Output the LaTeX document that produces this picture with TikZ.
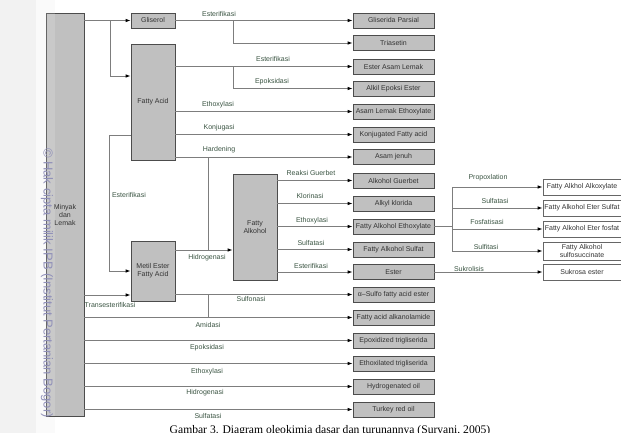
\documentclass[tikz,border=0pt]{standalone}
\usepackage{fontspec}
\setmainfont{Liberation Sans}
\newfontfamily\capfont{Liberation Serif}
\usepackage{xcolor}
\usetikzlibrary{arrows.meta}
\definecolor{boxgray}{RGB}{192,192,192}
\definecolor{linegray}{RGB}{125,125,125}
\definecolor{lblgreen}{RGB}{58,84,66}
\definecolor{wmark}{RGB}{145,145,185}

\begin{document}
\begin{tikzpicture}[x=1pt,y=-1pt,
    box/.style={draw=black!70,line width=0.7pt,fill=boxgray,text=black!80,inner sep=0pt,
                font=\fontsize{7}{8}\selectfont,align=center},
    prod/.style={box,minimum width=81pt,minimum height=15pt},
    subprod/.style={box,fill=white,draw=black!60,minimum width=78pt,minimum height=16pt},
    lbl/.style={text=lblgreen,font=\fontsize{7}{8}\selectfont,inner sep=0pt},
    conn/.style={draw=linegray,line width=0.9pt},
    arr/.style={conn,-{Latex[length=5pt,width=3.6pt,color=black]}}]

     \clip (0,0) rectangle (621,433);
     % scan margin
     \fill[black!5] (0,0) rectangle (36,433);
     \fill[black!2] (36,0) rectangle (55,433);

     % main sources
     \node[box,minimum width=38pt,minimum height=403pt] (minyak) at (65,214.5) {Minyak\\dan\\Lemak};
     \fill[white,opacity=0.15] (46,13) rectangle (55,416);
     \node[box,minimum width=44pt,minimum height=15pt] (gliserol) at (153,20.5) {Gliserol};
     \node[box,minimum width=44pt,minimum height=116pt] (fattyacid) at (153,102) {Fatty Acid};
     \node[box,minimum width=44pt,minimum height=60pt] (metil) at (153,271) {Metil Ester\\Fatty Acid};
     \node[box,minimum width=44pt,minimum height=106pt] (falkohol) at (255,227) {Fatty\\Alkohol};

     % product column
     \node[prod] (r1) at (393.5,20.5) {Gliserida Parsial};
     \node[prod] (r2) at (393.5,43) {Triasetin};
     \node[prod] (r3) at (393.5,66.5) {Ester Asam Lemak};
     \node[prod] (r4) at (393.5,88.5) {Alkil Epoksi Ester};
     \node[prod] (r5) at (393.5,111.5) {Asam Lemak Ethoxylate};
     \node[prod] (r6) at (393.5,134.5) {Konjugated Fatty acid};
     \node[prod] (r7) at (393.5,157) {Asam jenuh};
     \node[prod] (r8) at (393.5,180.5) {Alkohol Guerbet};
     \node[prod] (r9) at (393.5,203.5) {Alkyl klorida};
     \node[prod] (r10) at (393.5,226.5) {Fatty Alkohol Ethoxylate};
     \node[prod] (r11) at (393.5,249.5) {Fatty Alkohol Sulfat};
     \node[prod] (r12) at (393.5,272) {Ester};
     \node[prod] (r13) at (393.5,294.5) {α–Sulfo fatty acid ester};
     \node[prod] (r14) at (393.5,317.5) {Fatty acid alkanolamide};
     \node[prod] (r15) at (393.5,340.5) {Epoxidized trigliserida};
     \node[prod] (r16) at (393.5,363.5) {Ethoxilated trigliserida};
     \node[prod] (r17) at (393.5,386.5) {Hydrogenated oil};
     \node[prod] (r18) at (393.5,409.5) {Turkey red oil};

     % derivatives of fatty alkohol ethoxylate
     \node[subprod] (s1) at (582,187) {Fatty Alkhol Alkoxylate};
     \node[subprod] (s2) at (582,208) {Fatty Alkohol Eter Sulfat};
     \node[subprod] (s3) at (582,229) {Fatty Alkohol Eter fosfat};
     \node[subprod,minimum height=18pt] (s4) at (582,251) {Fatty Alkohol\\sulfosuccinate};
     \node[subprod] (sk) at (582,272) {Sukrosa ester};

     \coordinate (hv) at (208,0);
     \coordinate (fv) at (452,0);
     \coordinate (hg) at ([yshift=-23pt]falkohol.west);
     \coordinate (tr) at ([yshift=-24pt]metil.west);

     % from minyak dan lemak
     \draw[arr] (minyak.east |- gliserol) -- (gliserol.west);
     \draw[arr] (minyak.east |- gliserol) ++(26,0) |- ([yshift=26pt]fattyacid.west);
     \draw[arr] ([yshift=-33pt]fattyacid.west) -- ++(-21,0) |- (metil.west);
     \draw[arr] (minyak.east |- tr) -- (tr);
     \draw[arr] (minyak.east |- r14) -- (r14.west);
     \draw[arr] (minyak.east |- r15) -- (r15.west);
     \draw[arr] (minyak.east |- r16) -- (r16.west);
     \draw[arr] (minyak.east |- r17) -- (r17.west);
     \draw[arr] (minyak.east |- r18) -- (r18.west);

     % gliserol
     \draw[arr] (gliserol.east) -- (r1.west);
     \draw[arr] (gliserol.east) ++(58,0) |- (r2.west);

     % fatty acid
     \draw[arr] (fattyacid.east |- r3) -- (r3.west);
     \draw[arr] (fattyacid.east |- r3) ++(58,0) |- (r4.west);
     \draw[arr] (fattyacid.east |- r5) -- (r5.west);
     \draw[arr] (fattyacid.east |- r6) -- (r6.west);
     \draw[arr] (fattyacid.east |- r7) -- (r7.west);
     \draw[conn] (hv |- r7) -- (hv |- hg);

     % metil ester
     \draw[arr] (metil.east |- hg) -- (hg);
     \draw[arr] (metil.east |- r13) -- (r13.west);
     \draw[conn] (hv |- r13) -- (hv |- r14);

     % fatty alkohol
     \draw[arr] (falkohol.east |- r8) -- (r8.west);
     \draw[arr] (falkohol.east |- r9) -- (r9.west);
     \draw[arr] (falkohol.east |- r10) -- (r10.west);
     \draw[arr] (falkohol.east |- r11) -- (r11.west);
     \draw[arr] (falkohol.east |- r12) -- (r12.west);

     % fan to the right
     \draw[conn] (r10.east) -- (fv |- r10);
     \draw[conn] (fv |- s1) -- (fv |- s4);
     \draw[arr] (fv |- s1) -- (s1.west);
     \draw[arr] (fv |- s2) -- (s2.west);
     \draw[arr] (fv |- s3) -- (s3.west);
     \draw[arr] (fv |- s4) -- (s4.west);
     \draw[arr] (r12.east) -- (sk.west);

     % labels
     \node[lbl] (l1) at (219,14) {Esterifikasi};
     \node[lbl] (l2) at (273,59) {Esterifikasi};
     \node[lbl] (l3) at (272,82) {Epoksidasi};
     \node[lbl] (l4) at (218,105) {Ethoxylasi};
     \node[lbl] (l5) at (219,128) {Konjugasi};
     \node[lbl] (l6) at (219,150) {Hardening};
     \node[lbl] (l7) at (129,195) {Esterifikasi};
     \node[lbl] (l8) at (207,258) {Hidrogenasi};
     \node[lbl] (l9) at (110,305) {Transesterifikasi};
     \node[lbl] (l10) at (251,299) {Sulfonasi};
     \node[lbl] (l11) at (208,325) {Amidasi};
     \node[lbl] (l12) at (207,348) {Epoksidasi};
     \node[lbl] (l13) at (207,372) {Ethoxylasi};
     \node[lbl] (l14) at (205,393) {Hidrogenasi};
     \node[lbl] (l15) at (208,416) {Sulfatasi};
     \node[lbl] (l16) at (311,173) {Reaksi Guerbet};
     \node[lbl] (l17) at (310,196) {Klorinasi};
     \node[lbl] (l18) at (312,221) {Ethoxylasi};
     \node[lbl] (l19) at (311,243) {Sulfatasi};
     \node[lbl] (l20) at (311,266) {Esterifikasi};
     \node[lbl] (l21) at (488,178) {Propoxlation};
     \node[lbl] (l22) at (495,201) {Sulfatasi};
     \node[lbl] (l23) at (487,222) {Fosfatisasi};
     \node[lbl] (l24) at (486,247) {Sulfitasi};
     \node[lbl] (l25) at (469,269) {Sukrolisis};

     % caption and scan watermark
     \node[anchor=north,inner sep=0pt,font=\capfont\fontsize{11.6}{13}\selectfont] (cap) at (330,425.5)
          {Gambar 3. Diagram oleokimia dasar dan turunannya (Suryani, 2005)};
     \node[rotate=-90,anchor=west,inner sep=0pt,text=wmark,font=\fontsize{13}{15}\selectfont] (wm) at (47,148)
          {© Hak cipta milik IPB (Institut Pertanian Bogor)};
\end{tikzpicture}
\end{document}
